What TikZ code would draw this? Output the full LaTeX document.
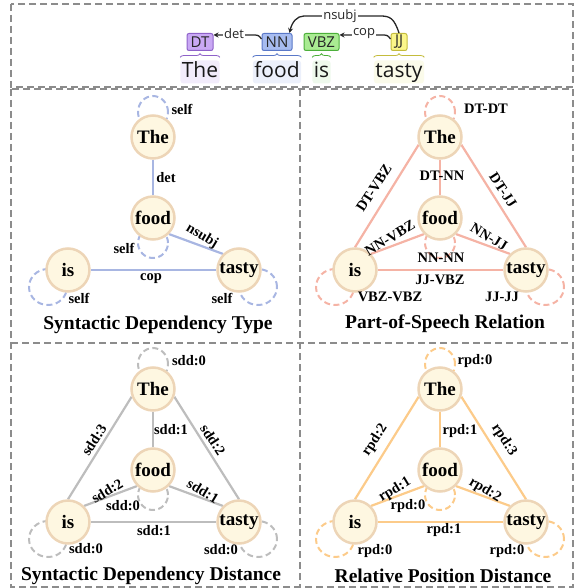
\documentclass[tikz,border=0pt]{standalone}
\usepackage{fontspec}
\setmainfont{Liberation Serif}
\newfontfamily\uisans{Open Sans}
\usetikzlibrary{decorations.pathreplacing,arrows.meta}
\pgfdeclarelayer{background}
\pgfsetlayers{background,main}
\definecolor{framegray}{HTML}{8C8C8C}
\definecolor{nodefill}{HTML}{FEF7E1}
\definecolor{nodedraw}{HTML}{EDD5B7}
\definecolor{eA}{HTML}{A8B6E2}
\definecolor{eB}{HTML}{F5B3A5}
\definecolor{eC}{HTML}{BDBDBD}
\definecolor{eD}{HTML}{FCCB8A}
\definecolor{dtf}{HTML}{C9A8F4}\definecolor{dtd}{HTML}{8E62C9}\definecolor{dtbg}{HTML}{F2ECFB}
\definecolor{nnf}{HTML}{A7BCF0}\definecolor{nnd}{HTML}{5A78C8}\definecolor{nnbg}{HTML}{ECF0FB}
\definecolor{vbf}{HTML}{A9EB92}\definecolor{vbd}{HTML}{4CAF3A}\definecolor{vbbg}{HTML}{EEF9EC}
\definecolor{jjf}{HTML}{FBF68A}\definecolor{jjd}{HTML}{C4BC3C}\definecolor{jjbg}{HTML}{FBFBEA}
\colorlet{pc}{eA}
\newcommand\panelnodes{%
  \node[gn] (The) at (153,137) {The};
  \node[gn] (food) at (153,218) {food};
  \node[gn] (is) at (68,270) {is};
  \node[gn] (tasty) at (239,270) {tasty};
  \begin{pgfonlayer}{background}
    \draw[selfloop] ([yshift=25pt]The.center) ellipse [x radius=15pt, y radius=16pt];
    \draw[selfloop] ([yshift=-25pt]food.center) ellipse [x radius=15pt, y radius=15pt];
    \draw[selfloop] ([xshift=-20pt,yshift=-17pt]is.center) ellipse [x radius=19pt, y radius=18pt];
    \draw[selfloop] ([xshift=19pt,yshift=-17pt]tasty.center) ellipse [x radius=19pt, y radius=18pt];
  \end{pgfonlayer}}
\newcommand\alledges{%
  \begin{pgfonlayer}{background}
    \draw[gedge] (The) -- (food);
    \draw[gedge] (The.200) -- (is.north);
    \draw[gedge] (The.340) -- (tasty.north);
    \draw[gedge] (food.south west) -- (is.north east);
    \draw[gedge] (food.south east) -- (tasty.north west);
    \draw[gedge] (is) -- (tasty);
  \end{pgfonlayer}}
\begin{document}
\begin{tikzpicture}[x=1pt,y=-1pt,
  frame/.style={draw=framegray, line width=2.2pt, dash pattern=on 7pt off 4pt},
  gn/.style={circle, fill=nodefill, draw=nodedraw, line width=2.5pt, minimum size=43pt, inner sep=0pt, font=\bfseries\fontsize{19}{19}\selectfont},
  gedge/.style={draw=pc, line width=2.2pt},
  selfloop/.style={draw=pc, line width=2pt, dash pattern=on 6pt off 3.5pt},
  lab/.style={inner sep=0pt, font=\bfseries\fontsize{14.5}{14.5}\selectfont},
  ptitle/.style={inner sep=0pt, font=\bfseries\fontsize{19.5}{19.5}\selectfont},
  tag/.style={rounded corners=2pt, line width=1pt, minimum height=17pt, inner sep=1pt, font=\uisans\fontsize{15}{15}\selectfont, text=black!85},
  word/.style={rounded corners=3pt, inner xsep=1.5pt, inner ysep=2pt, font=\uisans\fontsize{21}{21}\selectfont, text height=15pt, text depth=4pt, text=black!90},
  dep/.style={line width=1.3pt, draw=black!85, -{Stealth[length=5pt,width=5pt]}},
  deplab/.style={fill=white, inner sep=0.8pt, font=\uisans\fontsize{13}{13}\selectfont, text=black!85},
  brc/.style={line width=0.8pt, decorate, decoration={brace, amplitude=3.5pt}}]
\useasboundingbox (0,0) rectangle (575,588);
% frames
\draw[frame] (11,4) rectangle (573,87);
\draw[frame] (11,89) rectangle (573,587);
\draw[frame] (300,89) -- (300,587);
\draw[frame] (11,343) -- (573,343);
% top sentence
\node[tag, fill=dtf, draw=dtd, minimum width=26pt] (tDT) at (200,42) {DT};
\node[tag, fill=nnf, draw=nnd, minimum width=30pt] (tNN) at (277,42) {NN};
\node[tag, fill=vbf, draw=vbd, minimum width=35pt] (tVBZ) at (321.5,42) {VBZ};
\node[tag, fill=jjf, draw=jjd, minimum width=16pt] (tJJ) at (399,42) {JJ};
\node[word, fill=dtbg] (wThe) at (200,72) {The};
\node[word, fill=nnbg] (wfood) at (277,72) {food};
\node[word, fill=vbbg] (wis) at (321.5,72) {is};
\node[word, fill=jjbg] (wtasty) at (399,72) {tasty};
\draw[brc, draw=dtd] ([yshift=3pt]wThe.north west) -- ([yshift=3pt]wThe.north east);
\draw[brc, draw=nnd] ([yshift=3pt]wfood.north west) -- ([yshift=3pt]wfood.north east);
\draw[brc, draw=vbd] ([yshift=3pt]wis.north west) -- ([yshift=3pt]wis.north east);
\draw[brc, draw=jjd] ([yshift=3pt]wtasty.north west) -- ([yshift=3pt]wtasty.north east);
\draw[dep] ([yshift=3pt]tNN.west) .. controls ([xshift=-3pt,yshift=7pt]tNN.west) .. ([xshift=-10pt,yshift=7pt]tNN.west) -- ([yshift=7pt]tDT.east);
\node[deplab] (ldet) at (234,34) {det};
\draw[dep] ([yshift=3pt]tJJ.west) .. controls ([xshift=-3pt,yshift=7pt]tJJ.west) .. ([xshift=-10pt,yshift=7pt]tJJ.west) -- ([yshift=7pt]tVBZ.east);
\node[deplab] (lcop) at (364,34) {cop};
\draw[dep] (tJJ.north) .. controls (394,18) and (390,16) .. (380,16) -- (304,16) .. controls (297,16) and (292,22) .. ([xshift=-3pt]tNN.north east);
\node[deplab] (lnsubj) at (340,16) {nsubj};
% panel 1
\begin{scope}[name prefix=a-]
  \colorlet{pc}{eA}
  \panelnodes
  \begin{pgfonlayer}{background}
    \draw[gedge] (The) -- (food);
    \draw[gedge] (food.south east) -- (tasty.north west);
    \draw[gedge] (is) -- (tasty);
  \end{pgfonlayer}
  \node[lab] (l1) at (182,109) {self};
  \node[lab] (l2) at (166,178) {det};
  \node[lab] (l3) at (124,248) {self};
  \node[lab, rotate=-31] (l4) at (202,236) {nsubj};
  \node[lab] (l5) at (151,279) {cop};
  \node[lab] (l6) at (79,298) {self};
  \node[lab] (l7) at (222,298) {self};
  \node[ptitle] (ti) at (158,325) {Syntactic Dependency Type};
\end{scope}
% panel 2
\begin{scope}[shift={(287,0)}, name prefix=b-]
  \colorlet{pc}{eB}
  \panelnodes
  \alledges
  \node[lab] (l1) at (199,109) {DT-DT};
  \node[lab] (l2) at (155,176) {DT-NN};
  \node[lab, rotate=57] (l3) at (87,188) {DT-VBZ};
  \node[lab, rotate=-57] (l4) at (216,190) {DT-JJ};
  \node[lab, rotate=31] (l5) at (103,238) {NN-VBZ};
  \node[lab, rotate=-31] (l6) at (202,237) {NN-JJ};
  \node[lab] (l7) at (154,258) {NN-NN};
  \node[lab] (l8) at (153,280) {JJ-VBZ};
  \node[lab] (l9) at (103,297) {VBZ-VBZ};
  \node[lab] (l10) at (215,297) {JJ-JJ};
  \node[ptitle] (ti) at (158,324) {Part-of-Speech Relation};
\end{scope}
% panel 3
\begin{scope}[shift={(0,252)}, name prefix=c-]
  \colorlet{pc}{eC}
  \panelnodes
  \alledges
  \node[lab] (l1) at (189,109) {sdd:0};
  \node[lab, rotate=57] (l2) at (94,188) {sdd:3};
  \node[lab] (l3) at (171,178) {sdd:1};
  \node[lab, rotate=-57] (l4) at (213,188) {sdd:2};
  \node[lab, rotate=31] (l5) at (107,239) {sdd:2};
  \node[lab, rotate=-31] (l6) at (203,239) {sdd:1};
  \node[lab] (l7) at (123,254) {sdd:0};
  \node[lab] (l8) at (154,279) {sdd:1};
  \node[lab] (l9) at (86,297) {sdd:0};
  \node[lab] (l10) at (221,298) {sdd:0};
  \node[ptitle] (ti) at (151,324) {Syntactic Dependency Distance};
\end{scope}
% panel 4
\begin{scope}[shift={(287,252)}, name prefix=d-]
  \colorlet{pc}{eD}
  \panelnodes
  \alledges
  \node[lab] (l1) at (188,109) {rpd:0};
  \node[lab, rotate=57] (l2) at (88,188) {rpd:2};
  \node[lab] (l3) at (173,179) {rpd:1};
  \node[lab, rotate=-57] (l4) at (217,188) {rpd:3};
  \node[lab, rotate=31] (l5) at (108,238) {rpd:1};
  \node[lab, rotate=-31] (l6) at (198,238) {rpd:2};
  \node[lab] (l7) at (121,254) {rpd:0};
  \node[lab] (l8) at (157,278) {rpd:1};
  \node[lab] (l9) at (88,299) {rpd:0};
  \node[lab] (l10) at (220,299) {rpd:0};
  \node[ptitle] (ti) at (156,324) {Relative Position Distance};
\end{scope}
\end{tikzpicture}
\end{document}
